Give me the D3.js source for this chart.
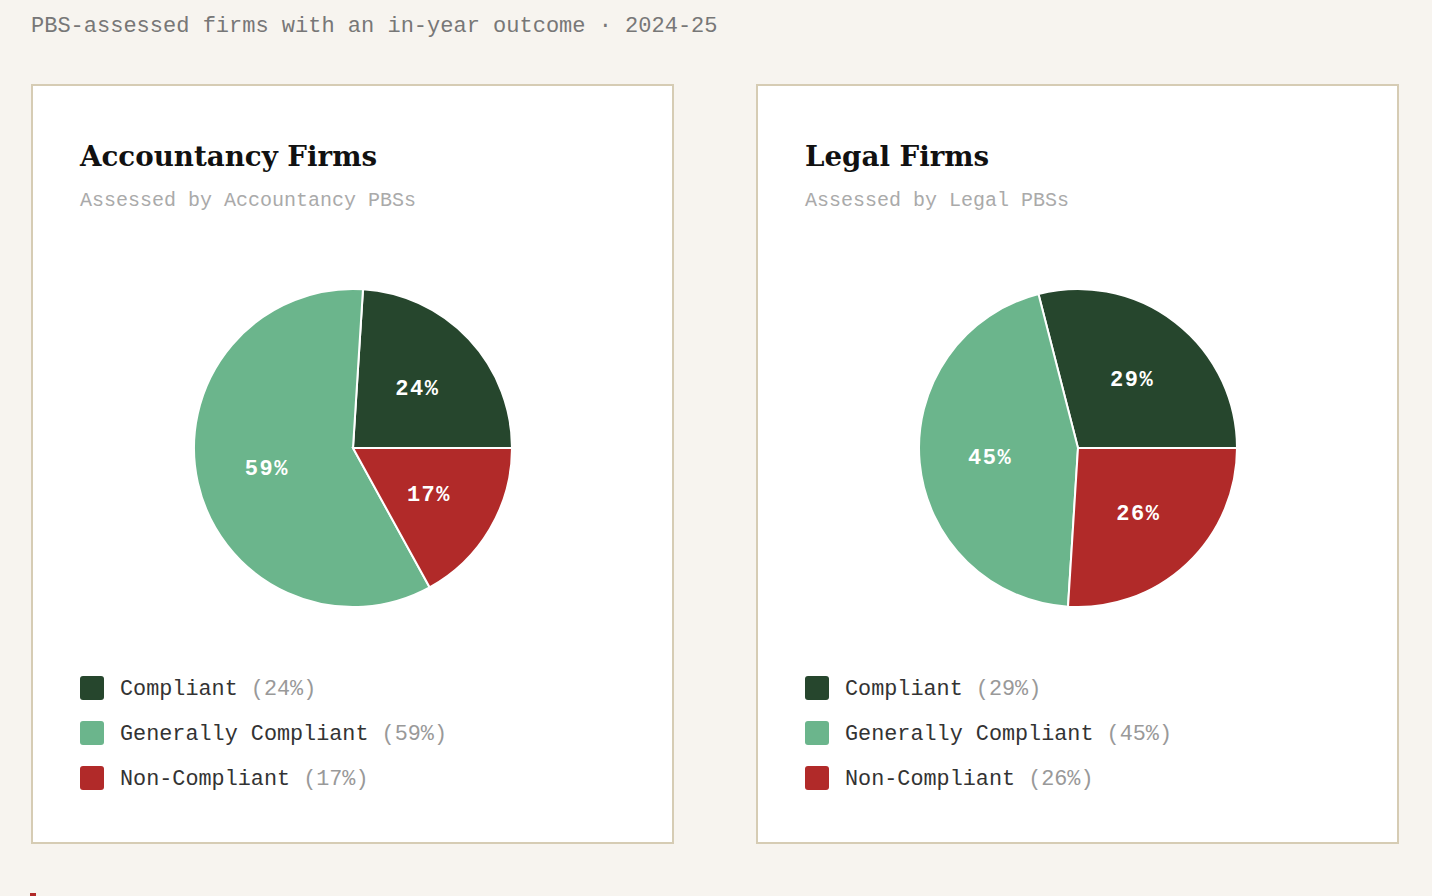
<!DOCTYPE html>
<html>
<head>
<meta charset="utf-8">
<script src="https://cdn.jsdelivr.net/npm/d3@7"></script>
<style>
  html, body { margin: 0; padding: 0; background: #f7f4ef; }
  svg { display: block; }
</style>
</head>
<body>
<script>
// data
var categories = ['Compliant', 'Generally Compliant', 'Non-Compliant'];
var colours = ['#26462d', '#6bb58c', '#b12a29'];
var panelTitles = ['Accountancy Firms', 'Legal Firms'];
var panelSubtitles = ['Assessed by Accountancy PBSs', 'Assessed by Legal PBSs'];
var accountancyValues = [24, 59, 17];
var legalValues = [29, 45, 26];
var seriesValues = [accountancyValues, legalValues];
var headline = 'PBS-assessed firms with an in-year outcome · 2024-25';

var mono = '"Courier New", "Liberation Mono", monospace';
var serif = 'Georgia, "DejaVu Serif", serif';

var svg = d3.select('body').append('svg')
  .attr('width', 1432)
  .attr('height', 896);

svg.append('text')
  .attr('x', 31).attr('y', 32)
  .attr('font-family', mono)
  .attr('font-size', 22)
  .attr('fill', '#777')
  .text(headline);

// little red marker at bottom
svg.append('rect')
  .attr('x', 30).attr('y', 893)
  .attr('width', 6).attr('height', 10)
  .attr('fill', '#b12a29');

var panelLeft = [31, 756];
var panelW = 643, panelH = 760;
var radius = 159;

var pie = d3.pie().sort(null)
  .startAngle(Math.PI / 2)
  .endAngle(Math.PI / 2 - 2 * Math.PI);
var arc = d3.arc().innerRadius(0).outerRadius(radius);
var labelArc = d3.arc().innerRadius(radius * 0.555).outerRadius(radius * 0.555);

seriesValues.forEach(function (vals, i) {
  var g = svg.append('g').attr('transform', 'translate(' + panelLeft[i] + ',84)');

  g.append('rect')
    .attr('x', 1).attr('y', 1)
    .attr('width', panelW - 2).attr('height', panelH - 2)
    .attr('fill', '#fff')
    .attr('stroke', '#d6ccb4')
    .attr('stroke-width', 2);

  g.append('text')
    .attr('x', 49).attr('y', 82)
    .attr('font-family', serif)
    .attr('font-weight', 'bold')
    .attr('font-size', 27.7)
    .attr('fill', '#111')
    .text(panelTitles[i]);

  g.append('text')
    .attr('x', 49).attr('y', 122)
    .attr('font-family', mono)
    .attr('font-size', 20)
    .attr('fill', '#aaa')
    .text(panelSubtitles[i]);

  var data = categories.map(function (c, j) { return { name: c, value: vals[j], colour: colours[j] }; });
  var arcs = pie.value(function (d) { return d.value; })(data);

  var pg = g.append('g').attr('transform', 'translate(322,364)');
  pg.selectAll('path')
    .data(arcs)
    .enter().append('path')
    .attr('d', arc)
    .attr('fill', function (d) { return d.data.colour; })
    .attr('stroke', '#fff')
    .attr('stroke-width', 2);

  pg.selectAll('text')
    .data(arcs)
    .enter().append('text')
    .attr('transform', function (d) { return 'translate(' + labelArc.centroid(d) + ')'; })
    .attr('text-anchor', 'middle')
    .attr('dy', '0.35em')
    .attr('font-family', mono)
    .attr('font-weight', 'bold')
    .attr('font-size', 22)
    .attr('letter-spacing', 1.5)
    .attr('fill', '#fff')
    .text(function (d) { return d.data.value + '%'; });

  var legY = d3.scaleBand().domain(categories).range([592, 727]);
  var leg = g.selectAll('.leg')
    .data(data)
    .enter().append('g')
    .attr('transform', function (d) { return 'translate(49,' + legY(d.name) + ')'; });

  leg.append('rect')
    .attr('width', 24).attr('height', 24)
    .attr('rx', 3)
    .attr('fill', function (d) { return d.colour; });

  var lt = leg.append('text')
    .attr('x', 40).attr('y', 19)
    .attr('font-family', mono)
    .attr('font-size', 21.8);
  lt.append('tspan').attr('fill', '#333').text(function (d) { return d.name + ' '; });
  lt.append('tspan').attr('fill', '#999').text(function (d) { return '(' + d.value + '%)'; });
});
</script>
</body>
</html>
